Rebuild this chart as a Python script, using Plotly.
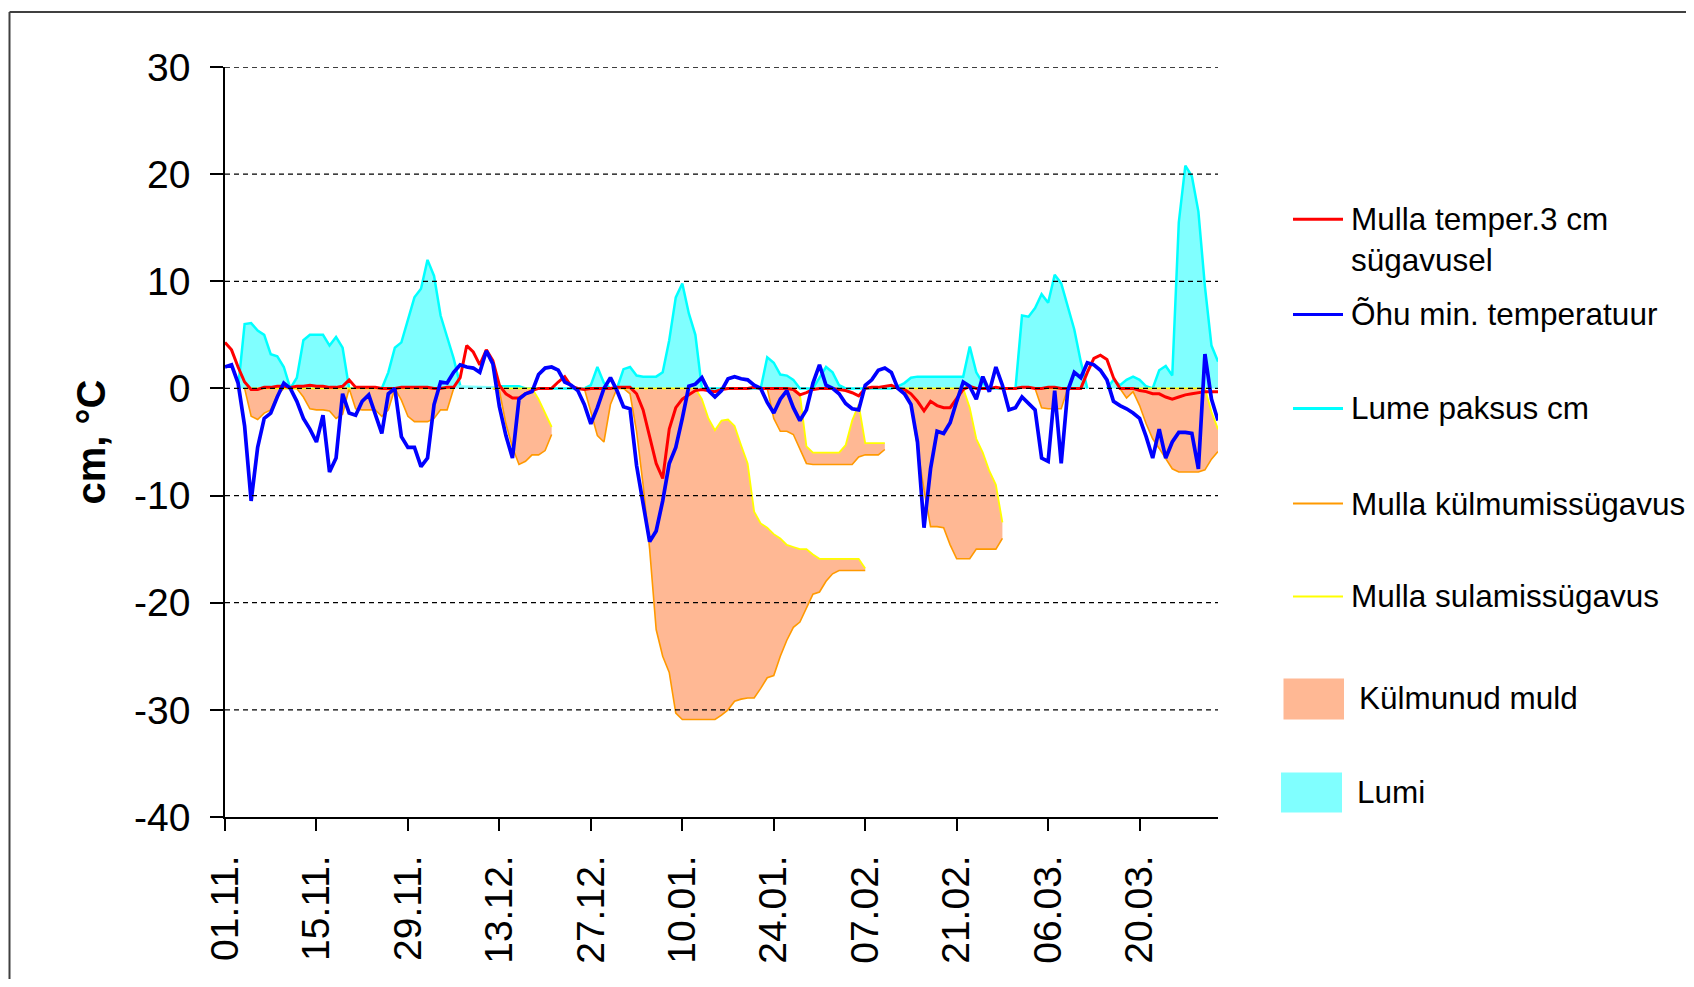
import pandas as pd
import plotly.graph_objects as go

# ---------------- data (daily values, 01.11 – 01.04) ----------------
DATES = pd.date_range("2003-11-01", "2004-04-01", freq="D")  # 153 days

TICK_LABELS = ["01.11.", "15.11.", "29.11.", "13.12.", "27.12.", "10.01.",
               "24.01.", "07.02.", "21.02.", "06.03.", "20.03."]
Y_TICKS = [-40, -30, -20, -10, 0, 10, 20, 30]
Y_TICK_LABELS = ["-40", "-30", "-20", "-10", "0", "10", "20", "30"]

# Mulla temper. 3 cm sügavusel (°C)
soil_temp = [
    4.3, 3.6, 2.0, 0.6, -0.1, -0.1, 0.1, 0.1, 0.2, 0.2,
    0.1, 0.2, 0.2, 0.3, 0.2, 0.2, 0.1, 0.1, 0.2, 0.8,
    0.1, 0.1, 0.1, 0.1, 0.0, 0.0, 0.0, 0.1, 0.1, 0.1,
    0.1, 0.1, 0.0, 0.0, 0.1, 0.1, 1.0, 4.0, 3.4, 2.2,
    3.6, 2.6, 0.3, -0.5, -0.9, -0.9, -0.5, -0.2, 0.0, 0.0,
    0.0, 0.6, 1.1, 0.2, 0.0, -0.1, 0.0, 0.0, 0.0, 0.0,
    0.1, 0.1, 0.1, -0.5, -2.0, -4.5, -7.0, -8.4, -3.8, -1.8,
    -1.0, -0.6, -0.2, -0.1, -0.2, -0.3, -0.1, 0.0, 0.0, 0.0,
    0.0, 0.1, 0.0, 0.0, 0.0, 0.0, 0.0, -0.1, -0.6, -0.4,
    -0.1, 0.0, 0.0, 0.0, -0.1, -0.2, -0.4, -0.7, 0.0, 0.1,
    0.1, 0.2, 0.3, 0.0, -0.1, -0.5, -1.2, -2.1, -1.2, -1.6,
    -1.8, -1.8, -1.0, -0.1, 0.2, 0.0, 0.0, 0.0, 0.1, 0.0,
    0.0, 0.0, 0.1, 0.1, 0.0, 0.0, 0.1, 0.1, 0.0, 0.0,
    0.0, 0.0, 1.5, 2.8, 3.1, 2.7, 1.0, 0.0, 0.0, 0.0,
    -0.2, -0.3, -0.5, -0.5, -0.8, -1.0, -0.8, -0.6, -0.5, -0.4,
    -0.3, -0.3, -0.3,
]

# Õhu min. temperatuur (°C)
air_min = [
    2.0, 2.2, 0.5, -3.5, -10.5, -5.5, -2.8, -2.3, -0.8, 0.5,
    0.0, -1.2, -2.8, -3.8, -5.0, -2.5, -7.8, -6.5, -0.5, -2.3,
    -2.5, -1.2, -0.6, -2.5, -4.2, -0.5, 0.0, -4.5, -5.5, -5.5,
    -7.3, -6.5, -1.5, 0.6, 0.5, 1.5, 2.2, 2.0, 1.9, 1.5,
    3.5, 2.3, -1.7, -4.4, -6.5, -1.0, -0.5, -0.3, 1.3, 1.9,
    2.0, 1.7, 0.6, 0.3, -0.2, -1.5, -3.3, -1.8, 0.0, 1.0,
    -0.2, -1.7, -1.9, -7.2, -11.0, -14.3, -13.3, -10.5, -7.0, -5.5,
    -2.8, 0.2, 0.4, 1.0, -0.2, -0.8, -0.2, 0.9, 1.1, 0.9,
    0.8, 0.3, 0.0, -1.3, -2.3, -1.0, -0.2, -1.8, -3.0, -2.0,
    0.5, 2.2, 0.3, 0.0, -0.5, -1.4, -1.9, -2.0, 0.3, 0.8,
    1.7, 1.9, 1.5, 0.0, -0.5, -1.5, -5.0, -13.0, -7.5, -4.0,
    -4.2, -3.2, -1.2, 0.6, 0.2, -1.0, 1.1, -0.3, 2.0, 0.3,
    -2.0, -1.8, -0.8, -1.4, -2.0, -6.5, -6.8, -0.2, -7.0, -0.2,
    1.5, 1.0, 2.4, 2.2, 1.7, 0.8, -1.2, -1.6, -1.9, -2.3,
    -2.8, -4.5, -6.5, -3.8, -6.5, -5.0, -4.1, -4.1, -4.2, -7.5,
    3.2, -1.0, -3.0,
]

# Lume paksus (cm)
snow_depth = [
    None, None, 0, 6.0, 6.1, 5.4, 5.0, 3.2, 3.0, 2.0,
    0, 1.0, 4.5, 5.0, 5.0, 5.0, 4.0, 4.8, 3.8, 0,
    0, 0, 0, 0, 0, 1.5, 3.8, 4.3, 6.4, 8.5,
    9.3, 12.0, 10.5, 6.8, 4.8, 2.8, 0.3, None, None, None,
    None, None, 0.2, 0.2, 0.2, 0.2, 0, 0, 0, 0,
    0, 0, 0, 0, 0, 0, 0.3, 2.0, 0.5, 0,
    0, 1.8, 2.0, 1.2, 1.1, 1.1, 1.1, 1.5, 4.5, 8.5,
    9.8, 7.0, 5.0, 0, 0, 0, 0, 0, 0, 0,
    0, 0, 0, 2.9, 2.4, 1.3, 1.2, 0.8, 0, 0,
    0, 1.0, 2.0, 1.5, 0.3, 0, 0, 0, 0, 0,
    0, 0, 0, 0.2, 0.5, 1.0, 1.1, 1.1, 1.1, 1.1,
    1.1, 1.1, 1.1, 1.1, 3.9, 1.5, 0.5, 0, 0, 0,
    0, 0, 6.8, 6.7, 7.5, 8.8, 8.0, 10.6, 9.8, 7.6,
    5.5, 2.5, 0, None, None, 0, 0.8, 0.3, 0.8, 1.1,
    0.8, 0.2, 0, 1.7, 2.1, 1.2, 15.5, 20.8, 19.8, 16.5,
    9.5, 4.0, 2.5,
]

# Mulla külmumissügavus (cm, negative = depth)
freeze_depth = [
    None, None, None, 0, -2.6, -2.9, -2.3, -2.0, -0.6, 0,
    0, 0, -0.8, -1.9, -2.0, -2.0, -2.1, -2.8, -2.4, 0,
    -1.9, -2.0, -2.0, -2.0, -2.6, -2.0, 0, -1.1, -2.6, -3.1,
    -3.1, -3.1, -2.8, -2.0, -2.0, 0, None, None, None, None,
    None, 0, -0.2, -3.3, -5.5, -7.1, -6.8, -6.2, -6.2, -5.8,
    -4.3, None, None, None, None, 0, -2.2, -4.4, -5.0, -1.5,
    0, 0, -0.5, -4.0, -9.0, -15.0, -22.5, -25.0, -26.5, -30.3,
    -30.9, -30.9, -30.9, -30.9, -30.9, -30.9, -30.5, -30.0, -29.2, -29.0,
    -28.9, -28.9, -28.0, -27.0, -26.8, -25.0, -23.5, -22.3, -21.8, -20.5,
    -19.2, -19.0, -18.0, -17.3, -17.0, -17.0, -17.0, -17.0, -17.0, None,
    None, None, None, None, 0, -1.5, -5.5, -9.5, -12.9, -12.9,
    -13.0, -14.6, -15.9, -15.9, -15.9, -15.0, -15.0, -15.0, -15.0, -14.0,
    None, None, None, None, 0, -1.8, -1.9, -1.9, -1.9, 0,
    None, None, None, None, None, None, None, 0, -0.9, -0.3,
    -1.6, -3.3, -4.7, -5.6, -6.5, -7.5, -7.8, -7.8, -7.8, -7.8,
    -7.6, -6.6, -5.9,
]

# Mulla sulamissügavus (cm, negative = depth)
thaw_depth = [
    None, None, None, 0, 0, 0, 0, 0, 0, 0,
    0, 0, 0, 0, 0, 0, 0, 0, 0, 0,
    0, 0, 0, 0, 0, 0, 0, 0, 0, 0,
    0, 0, 0, 0, 0, 0, None, None, None, None,
    None, 0, 0, 0, 0, 0, 0, 0, -1.0, -2.3,
    -3.6, None, None, None, None, 0, 0, 0, 0, 0,
    0, 0, 0, 0, 0, 0, 0, 0, 0, 0,
    0, 0, 0, -1.0, -2.8, -3.9, -3.0, -2.9, -3.5, -5.3,
    -7.0, -11.5, -12.6, -13.0, -13.6, -14.0, -14.6, -14.8, -15.0, -15.0,
    -15.5, -15.9, -15.9, -15.9, -15.9, -15.9, -15.9, -15.9, -16.8, None,
    None, None, None, None, 0, 0, 0, 0, 0, 0,
    0, 0, 0, 0, -1.8, -4.7, -6.0, -7.7, -9.0, -12.5,
    None, None, None, None, 0, 0, 0, 0, 0, 0,
    None, None, None, None, None, None, None, 0, 0, 0,
    0, 0, 0, 0, 0, 0, 0, 0, 0, 0,
    0, -2.2, -3.8,
]

# second (re-frozen, upper) soil layer, 23.01 – 10.02
layer2_start = "2004-01-23"
freeze_depth_2 = [0, -2.8, -4.0, -4.0, -4.3, -5.6, -7.0, -7.1, -7.1, -7.1,
                  -7.1, -7.1, -7.1, -7.1, -6.4, -6.2, -6.2, -6.2, -5.7]
thaw_depth_2 = [0, 0, 0, 0, 0, -0.5, -5.4, -6.0, -6.0, -6.0,
                -6.0, -6.0, -5.3, -3.0, -1.5, -5.1, -5.1, -5.1, -5.1]

for arr in (soil_temp, air_min, snow_depth, freeze_depth, thaw_depth):
    assert len(arr) == len(DATES), len(arr)
DATES2 = pd.date_range(layer2_start, periods=len(freeze_depth_2), freq="D")

# ---------------- styles ----------------
RED, BLUE, CYAN, SNOWFILL = "#FF0000", "#0000FF", "#00FFFF", "#80FFFF"
ORANGE, YELLOW, SOILFILL = "#FF9900", "#FFFF00", "#FFB894"
FONT = "Liberation Sans, Arial, Helvetica, sans-serif"


def frozen_polygons(dates, upper, lower):
    """Closed outlines (thaw line forward, freeze line back) for each run of data."""
    xs, ys = [], []
    run = []
    for i, v in enumerate(list(lower) + [None]):
        if v is not None:
            run.append(i)
            continue
        if run:
            xs += [dates[i] for i in run] + [dates[i] for i in reversed(run)] + [None]
            ys += [upper[i] for i in run] + [lower[i] for i in reversed(run)] + [None]
            run = []
    return xs, ys


fig = go.Figure()

# snow (area + line)
fig.add_trace(go.Scatter(x=DATES, y=snow_depth, mode="lines", name="Lume paksus cm",
                         line=dict(color=CYAN, width=2.5), fill="tozeroy",
                         fillcolor=SNOWFILL, connectgaps=False))

# frozen soil areas
for d, up, lo in ((DATES, thaw_depth, freeze_depth), (DATES2, thaw_depth_2, freeze_depth_2)):
    px, py = frozen_polygons(d, up, lo)
    fig.add_trace(go.Scatter(x=px, y=py, mode="lines", name="Külmunud muld",
                             fill="toself", fillcolor=SOILFILL,
                             line=dict(width=0, color=SOILFILL), hoverinfo="skip"))

# freezing / thawing depth lines
for d, arr in ((DATES, freeze_depth), (DATES2, freeze_depth_2)):
    fig.add_trace(go.Scatter(x=d, y=arr, mode="lines", name="Mulla külmumissügavus",
                             line=dict(color=ORANGE, width=1.6), connectgaps=False))
for d, arr in ((DATES, thaw_depth), (DATES2, thaw_depth_2)):
    fig.add_trace(go.Scatter(x=d, y=arr, mode="lines", name="Mulla sulamissügavus",
                             line=dict(color=YELLOW, width=1.8), connectgaps=False))

fig.add_trace(go.Scatter(x=DATES, y=soil_temp, mode="lines", name="Mulla temper.3 cm sügavusel",
                         line=dict(color=RED, width=3)))
fig.add_trace(go.Scatter(x=DATES, y=air_min, mode="lines", name="Õhu min. temperatuur",
                         line=dict(color=BLUE, width=3.7)))

# ---------------- layout ----------------
# the page body adds an 8 px margin; work in page pixels and convert
OFF = 8
W, H = 1694 - 2 * OFF, 987 - 2 * OFF
L, R, T, B = 225 - OFF, 1218 - OFF, 67 - OFF, 817 - OFF


def xp(px):
    return (px - OFF - L) / (R - L)


def yp(py):
    return (B - (py - OFF)) / (B - T)


shapes = []
for v in range(-30, 31, 10):
    shapes.append(dict(type="line", xref="paper", yref="y", x0=0, x1=1, y0=v, y1=v,
                       line=dict(color="black", width=1.3, dash="5px,4px"), layer="above"))
# outer chart frame: only its left and top edges fall inside the page
frame_x, frame_y = OFF + 1.5, 12
shapes.append(dict(type="line", xref="paper", yref="paper",
                   x0=xp(frame_x), x1=xp(frame_x), y0=yp(frame_y), y1=yp(1000),
                   line=dict(color="#404040", width=2), layer="below"))
shapes.append(dict(type="line", xref="paper", yref="paper",
                   x0=xp(frame_x), x1=xp(1710), y0=yp(frame_y), y1=yp(frame_y),
                   line=dict(color="#404040", width=2), layer="below"))

# legend (drawn)
legend_lines = [(RED, 219.3, 3), (BLUE, 314.4, 3), (CYAN, 408.4, 3),
                (ORANGE, 503.5, 2), (YELLOW, 596.4, 2)]
for col, yy, wdt in legend_lines:
    shapes.append(dict(type="line", xref="paper", yref="paper", x0=xp(1293), x1=xp(1343),
                       y0=yp(yy), y1=yp(yy), line=dict(color=col, width=wdt)))
shapes.append(dict(type="rect", xref="paper", yref="paper", x0=xp(1283.5), x1=xp(1344),
                   y0=yp(719.5), y1=yp(678.5), fillcolor=SOILFILL, line=dict(width=0)))
shapes.append(dict(type="rect", xref="paper", yref="paper", x0=xp(1281), x1=xp(1342),
                   y0=yp(812.5), y1=yp(772.5), fillcolor=SNOWFILL, line=dict(width=0)))

legend_texts = [
    ("Mulla temper.3 cm<br>sügavusel", 1349, 239.3),
    ("Õhu min. temperatuur", 1349, 314.4),
    ("Lume paksus cm", 1349, 408.4),
    ("Mulla külmumissügavus", 1349, 503.5),
    ("Mulla sulamissügavus", 1349, 596.4),
    ("Külmunud muld", 1357, 698.0),
    ("Lumi", 1355, 792.0),
]
annotations = []
for txt, xx, yy in legend_texts:
    annotations.append(dict(text=txt, xref="paper", yref="paper", x=xp(xx), y=yp(yy),
                            xanchor="left", yanchor="middle", showarrow=False, align="left",
                            font=dict(size=31.5, family=FONT, color="black")))

fig.update_layout(
    width=W, height=H, template="none", showlegend=False,
    margin=dict(l=L, r=W - R, t=T, b=H - B, pad=0),
    paper_bgcolor="white", plot_bgcolor="white",
    font=dict(family=FONT, color="black"),
    shapes=shapes, annotations=annotations,
    xaxis=dict(type="date", range=[DATES[0], DATES[-1]], showgrid=False, zeroline=False,
               showline=True, linecolor="black", linewidth=1.5,
               ticks="outside", ticklen=12, tickwidth=1.5, tickcolor="black",
               tickvals=list(DATES[::14][:len(TICK_LABELS)]), ticktext=TICK_LABELS,
               tickangle=-90, tickfont=dict(size=39, family=FONT),
               ticklabelstandoff=9, automargin=False),
    yaxis=dict(range=[-40, 30], tickvals=Y_TICKS, ticktext=Y_TICK_LABELS, showgrid=False,
               zeroline=False, showline=True, linecolor="black", linewidth=1.5,
               ticks="outside", ticklen=13, tickwidth=1.5, tickcolor="black",
               tickfont=dict(size=39, family=FONT), ticklabelstandoff=12,
               title=dict(text="cm, °C", font=dict(size=40, family=FONT, weight="bold"),
                          standoff=16),
               automargin=False),
)

fig.write_html("out.html")
